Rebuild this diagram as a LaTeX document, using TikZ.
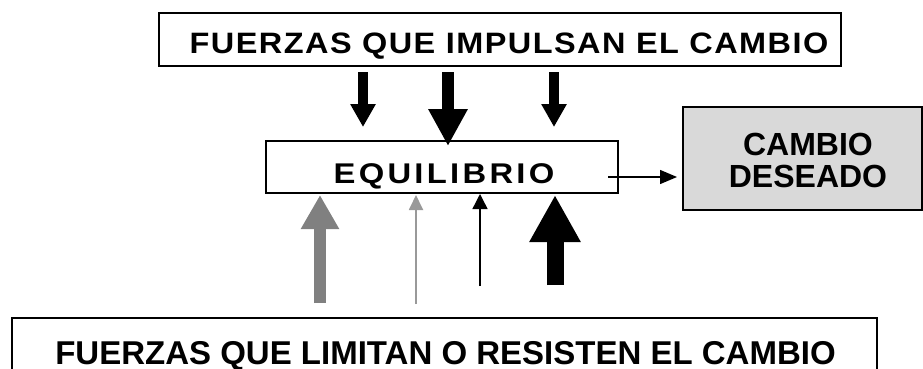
\documentclass[tikz,border=0pt]{standalone}
\usepackage{fontspec}
\setmainfont{Liberation Sans}
\usetikzlibrary{arrows.meta}
\definecolor{boxgray}{HTML}{D9D9D9}
\definecolor{arrgray}{HTML}{808080}
\definecolor{thingray}{HTML}{999999}
\begin{document}
\begin{tikzpicture}[x=1pt,y=-1pt,
  boxline/.style={draw=black, line width=1.5pt, inner sep=0pt, anchor=center},
  lbl/.style={inner sep=0pt, anchor=base},
  downsmall/.style={line width=10pt, -{Triangle[length=23pt,width=24pt]}},
  downbig/.style={line width=11.5pt, -{Triangle[length=37pt,width=37pt]}},
  upgraybig/.style={arrgray, line width=12pt, -{Triangle[length=34pt,width=36pt]}},
  upgraythin/.style={thingray, line width=1.8pt, -{Triangle[length=15pt,width=14pt]}},
  upblackthin/.style={black, line width=1.4pt, -{Triangle[length=15pt,width=15pt]}},
  upblackbig/.style={black, line width=17pt, -{Triangle[length=47pt,width=48pt]}},
  rightarr/.style={black, line width=1.4pt, -{Triangle[length=17pt,width=14pt]}}
]
\clip (0,0) rectangle (923,369);
\fill[white] (0,0) rectangle (923,369);

% boxes
\node[boxline, minimum width=682pt, minimum height=53pt] (topbox) at (500,39.5) {};
\node[lbl, font=\fontsize{29.5}{34}\selectfont\bfseries\addfontfeatures{LetterSpace=4.5}] (toptext) at (509,54) {\scalebox{1.1}[1]{FUERZAS QUE IMPULSAN EL CAMBIO}};

\node[boxline, minimum width=352pt, minimum height=52pt] (equi) at (442,167) {};
\node[lbl, font=\fontsize{28.5}{34}\selectfont\bfseries\addfontfeatures{LetterSpace=10}] (equitext) at (444,183) {\scalebox{1.15}[1]{EQUILIBRIO}};

\node[boxline, fill=boxgray, minimum width=239pt, minimum height=103pt] (cambio) at (802.5,158.5) {};
\node[lbl, align=center, font=\fontsize{32}{32}\selectfont\bfseries] (cambiotext) at (808,187) {CAMBIO\\DESEADO};

\node[boxline, minimum width=865pt, minimum height=100pt] (botbox) at (444.5,368) {};
\node[lbl, font=\fontsize{33}{38}\selectfont\bfseries] (bottext) at (445.5,364) {FUERZAS QUE LIMITAN O RESISTEN EL CAMBIO};

% top arrows
\coordinate (d1s) at (363,72);  \coordinate (d1e) at (363,127);
\coordinate (d2s) at (448,72);  \coordinate (d2e) at (448,146);
\coordinate (d3s) at (554,72);  \coordinate (d3e) at (554,127);
\draw[downsmall] (d1s) -- (d1e);
\draw[downbig] (d2s) -- (d2e);
\draw[downsmall] (d3s) -- (d3e);

% bottom arrows
\coordinate (u1s) at (320,303); \coordinate (u1e) at (320,195);
\coordinate (u2s) at (416,304); \coordinate (u2e) at (416,195);
\coordinate (u3s) at (480,286); \coordinate (u3e) at (480,194);
\coordinate (u4s) at (555,285); \coordinate (u4e) at (555,195);
\draw[upgraybig] (u1s) -- (u1e);
\draw[upgraythin] (u2s) -- (u2e);
\draw[upblackthin] (u3s) -- (u3e);
\draw[upblackbig] (u4s) -- (u4e);

% right arrow
\coordinate (rs) at (608,177);
\coordinate (re) at (677,177);
\draw[rightarr] (rs) -- (re);
\end{tikzpicture}
\end{document}
